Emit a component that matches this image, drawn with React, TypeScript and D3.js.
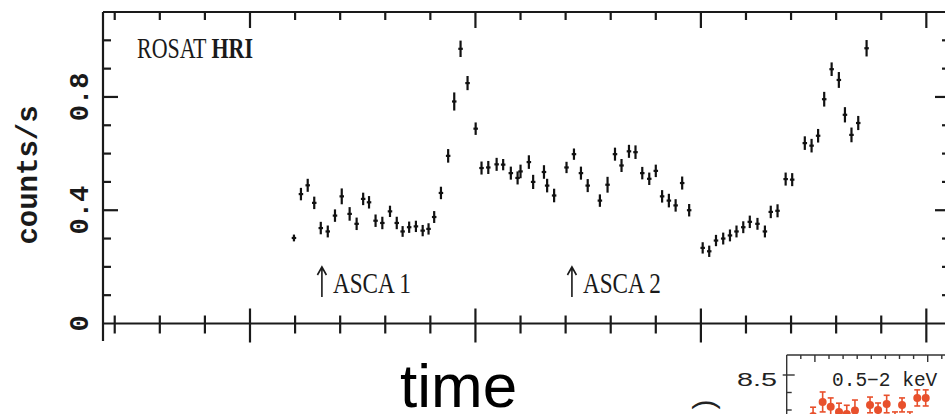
import React from "react";
import * as d3 from "d3";

const WIDTH = 945;
const HEIGHT = 414;

// ROSAT HRI light curve (time in days, counts/s)
const times = [
  11.95, 12.26, 12.56, 12.85, 13.14, 13.45, 13.77, 14.07, 14.42, 14.73,
  15.02, 15.28, 15.57, 15.87, 16.21, 16.51, 16.77, 17.06, 17.36, 17.66,
  17.92, 18.17, 18.47, 18.79, 19.06, 19.34, 19.65, 20.01, 20.27, 20.57,
  20.94, 21.23, 21.57, 21.87, 22.0, 22.37, 22.56, 23.04, 23.18, 23.49,
  24.04, 24.37, 24.68, 24.98, 25.52, 25.86, 26.19, 26.48, 26.81, 27.1,
  27.4, 27.71, 28.0, 28.28, 28.58, 28.88, 29.17, 29.48, 30.08, 30.37,
  30.67, 30.99, 31.29, 31.58, 31.88, 32.17, 32.51, 32.84, 33.1, 33.4,
  33.76, 34.05, 34.61, 34.91, 35.2, 35.47, 35.8, 36.12, 36.39, 36.68,
  36.98, 37.35,
];
const rates = [
  0.302, 0.457, 0.488, 0.426, 0.337, 0.325, 0.381, 0.449, 0.387, 0.352,
  0.44, 0.428, 0.363, 0.355, 0.396, 0.355, 0.325, 0.34, 0.343, 0.328,
  0.334, 0.376, 0.461, 0.592, 0.784, 0.97, 0.849, 0.688, 0.549, 0.551,
  0.562, 0.561, 0.531, 0.514, 0.537, 0.57, 0.5, 0.535, 0.487, 0.452,
  0.551, 0.598, 0.531, 0.487, 0.434, 0.49, 0.598, 0.558, 0.608, 0.605,
  0.531, 0.511, 0.539, 0.449, 0.434, 0.417, 0.496, 0.4, 0.267, 0.255,
  0.293, 0.3, 0.311, 0.325, 0.34, 0.359, 0.352, 0.325, 0.394, 0.398,
  0.51, 0.508, 0.637, 0.628, 0.663, 0.792, 0.898, 0.86, 0.737, 0.666,
  0.708, 0.972,
];
const errors = [
  0.012, 0.022, 0.023, 0.022, 0.022, 0.021, 0.022, 0.028, 0.024, 0.022,
  0.022, 0.022, 0.022, 0.022, 0.02, 0.022, 0.019, 0.02, 0.02, 0.02,
  0.02, 0.021, 0.022, 0.024, 0.032, 0.029, 0.025, 0.022, 0.023, 0.023,
  0.023, 0.02, 0.023, 0.023, 0.024, 0.024, 0.025, 0.024, 0.024, 0.024,
  0.02, 0.02, 0.023, 0.023, 0.022, 0.028, 0.023, 0.023, 0.023, 0.024,
  0.022, 0.022, 0.022, 0.022, 0.024, 0.022, 0.023, 0.022, 0.02, 0.02,
  0.02, 0.021, 0.021, 0.021, 0.021, 0.022, 0.021, 0.021, 0.022, 0.023,
  0.023, 0.023, 0.024, 0.024, 0.024, 0.026, 0.024, 0.028, 0.027, 0.026,
  0.025, 0.029,
];
const XERR = 0.1;

const asca = [
  { t: 13.19, label: "ASCA 1" },
  { t: 24.28, label: "ASCA 2" },
];

const yTickLabels = [0, 0.4, 0.8];

// inset (0.5-2 keV) points peeking in at the bottom right
const insetX = [1.87, 2.55, 3.12, 3.71, 4.26, 4.84, 5.91, 6.48, 7.09, 7.68, 8.18, 8.74, 9.26, 9.86];
const insetY = [8.266, 8.346, 8.319, 8.289, 8.277, 8.297, 8.329, 8.3, 8.334, 8.254, 8.329, 8.254, 8.369, 8.369];
const insetErr = [0.05, 0.057, 0.05, 0.05, 0.05, 0.06, 0.045, 0.04, 0.05, 0.035, 0.04, 0.035, 0.046, 0.046];

const AXIS = "#1a1a1a";
const RED = "#e8502c";

export default function App() {
  const x = d3.scaleLinear().domain([3.48, 41.05]).range([103, 950]);
  const y = d3.scaleLinear().domain([0, 1.1]).range([323.5, 12]);

  const xMajor = d3.range(10, 41, 10);
  const xMinor = d3.range(4, 41, 2).filter((v) => v % 10 !== 0);
  const yMajor = [0.4, 0.8];
  const yMinor = d3.range(0.1, 1.1, 0.1).filter((v) => Math.abs(v - 0.4) > 1e-6 && Math.abs(v - 0.8) > 1e-6);

  const [x0, x1] = x.range();
  const [yb, yt] = y.range();

  // inset scales
  const ix = d3.scaleLinear().domain([0, 11]).range([786.7, 941.8]);
  const iy = d3.scaleLinear().domain([8.5, 8.6]).range([375, 357.5]);

  return (
    <svg
      width={WIDTH}
      height={HEIGHT}
      style={{ position: "absolute", left: 0, top: 0, background: "#fff" }}
    >
      {/* frame */}
      <g stroke={AXIS} strokeWidth={2.2} fill="none">
        <line x1={x0} y1={yt} x2={x1} y2={yt} />
        <line x1={x0} y1={yb} x2={x1} y2={yb} />
        <line x1={x0} y1={yt} x2={x0} y2={341} />
        <line x1={x1} y1={yt} x2={x1} y2={yb} />
        {xMajor.map((v) => (
          <g key={"xM" + v}>
            <line x1={x(v)} x2={x(v)} y1={yt} y2={yt + 16} />
            <line x1={x(v)} x2={x(v)} y1={yb - 15} y2={yb + 19} />
          </g>
        ))}
        {xMinor.map((v) => (
          <g key={"xm" + v}>
            <line x1={x(v)} x2={x(v)} y1={yt} y2={yt + 8} />
            <line x1={x(v)} x2={x(v)} y1={yb - 8} y2={yb + 10} />
          </g>
        ))}
        {yMajor.map((v) => (
          <g key={"yM" + v}>
            <line x1={x0} x2={x0 + 15} y1={y(v)} y2={y(v)} />
            <line x1={x1} x2={x1 - 15} y1={y(v)} y2={y(v)} />
          </g>
        ))}
        {yMinor.map((v) => (
          <g key={"ym" + v}>
            <line x1={x0} x2={x0 + 8} y1={y(v)} y2={y(v)} />
            <line x1={x1} x2={x1 - 8} y1={y(v)} y2={y(v)} />
          </g>
        ))}
      </g>

      {/* y tick labels */}
      {yTickLabels.map((v) => (
        <text
          key={"yl" + v}
          transform={`translate(88, ${y(v)}) rotate(-90)`}
          textAnchor="middle"
          fontFamily="'Liberation Mono', monospace"
          fontWeight="bold"
          fontSize={27}
          fill={AXIS}
        >
          {v === 0 ? "0" : String(v)}
        </text>
      ))}
      <text
        transform="translate(37, 175) rotate(-90)"
        textAnchor="middle"
        fontFamily="'Liberation Mono', monospace"
        fontWeight="bold"
        fontSize={29}
        fill={AXIS}
      >
        counts/s
      </text>

      {/* instrument label */}
      <text
        x={137}
        y={58}
        fontFamily="'Liberation Serif', serif"
        fontSize={30}
        fill={AXIS}
        textLength={116}
        lengthAdjust="spacingAndGlyphs"
      >
        ROSAT <tspan fontWeight="bold">HRI</tspan>
      </text>

      {/* data with error bars */}
      <g stroke="#111" strokeWidth={2.2} strokeLinecap="butt">
        {times.map((t, i) => (
          <g key={"p" + i}>
            <line x1={x(t)} x2={x(t)} y1={y(rates[i] - errors[i])} y2={y(rates[i] + errors[i])} />
            <line x1={x(t - XERR)} x2={x(t + XERR)} y1={y(rates[i])} y2={y(rates[i])} />
          </g>
        ))}
      </g>

      {/* ASCA pointings */}
      {asca.map((a) => {
        const ax = x(a.t);
        return (
          <g key={a.label}>
            <path
              d={`M${ax},297 L${ax},267 M${ax - 4.5},275 L${ax},267 L${ax + 4.5},275`}
              stroke={AXIS}
              strokeWidth={1.6}
              fill="none"
            />
            <text
              x={ax + 11}
              y={293}
              fontFamily="'Liberation Serif', serif"
              fontSize={30}
              fill={AXIS}
              textLength={78}
              lengthAdjust="spacingAndGlyphs"
            >
              {a.label}
            </text>
          </g>
        );
      })}

      {/* x axis caption */}
      <text x={400} y={407} fontFamily="'Liberation Sans', Arial, sans-serif" fontSize={62} fill="#000">
        time
      </text>

      {/* inset panel */}
      <text
        transform="translate(714, 409.5) rotate(-90)"
        fontFamily="'Liberation Sans', Arial, sans-serif"
        fontSize={30}
        fill="#222"
      >
        )
      </text>
      <g stroke="#333" strokeWidth={1.4} fill="none">
        <line x1={ix(0)} x2={WIDTH} y1={355} y2={355} />
        <line x1={ix(0)} x2={ix(0)} y1={355} y2={HEIGHT} />
        {d3.range(1, 12).map((v) => (
          <line key={"it" + v} x1={ix(v)} x2={ix(v)} y1={355} y2={v === 2 || v === 10 ? 362 : 359} />
        ))}
        {[8.5, 8.4, 8.3].map((v) => (
          <line key={"iy" + v} x1={ix(0) - (v === 8.5 ? 4 : 0)} x2={ix(0) + (v === 8.5 ? 8 : 5)} y1={iy(v)} y2={iy(v)} />
        ))}
      </g>
      <text
        x={777}
        y={386}
        textAnchor="end"
        fontFamily="'Liberation Sans', Arial, sans-serif"
        fontSize={19}
        textLength={40}
        lengthAdjust="spacingAndGlyphs"
        fill="#222"
      >
        8.5
      </text>
      <text
        x={832}
        y={386}
        fontFamily="'Liberation Mono', monospace"
        fontSize={19.5}
        fill="#222"
      >
        0.5−2 keV
      </text>
      <g stroke={RED} strokeWidth={1.6} fill={RED}>
        {insetX.map((v, i) => {
          const cx = ix(v);
          const lo = iy(insetY[i] - insetErr[i]);
          const hi = iy(insetY[i] + insetErr[i]);
          return (
            <g key={"ip" + i}>
              <line x1={cx} x2={cx} y1={lo} y2={hi} />
              <line x1={cx - 3} x2={cx + 3} y1={hi} y2={hi} />
              <line x1={cx - 3} x2={cx + 3} y1={lo} y2={lo} />
              <circle cx={cx} cy={iy(insetY[i])} r={4} stroke="none" />
            </g>
          );
        })}
      </g>
    </svg>
  );
}
